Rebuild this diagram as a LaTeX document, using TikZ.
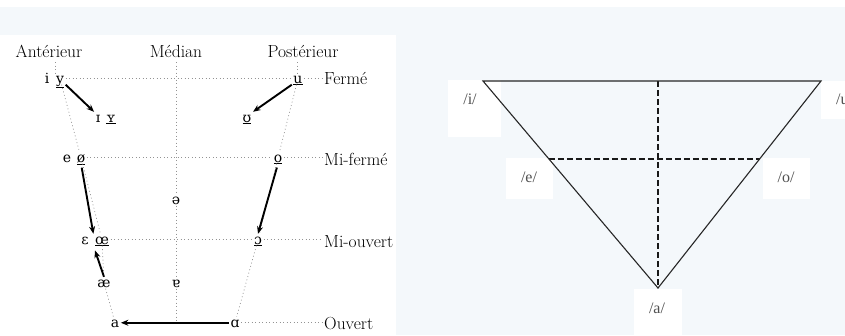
\documentclass[tikz,border=0pt]{standalone}
\usepackage{fontspec}
\newfontfamily\ipafont{DejaVu Serif}[Scale=0.8]
\newfontfamily\lblfont{Liberation Serif}
\usetikzlibrary{arrows.meta,calc}
\definecolor{panelbg}{RGB}{244,248,251}
\definecolor{lblgray}{RGB}{80,80,80}
\begin{document}
\begin{tikzpicture}[x=1pt,y=-1pt,
  lab/.style={font=\fontsize{17.5}{20}\selectfont, inner sep=1pt, anchor=base},
  vow/.style={font=\fontsize{17.5}{20}\selectfont\ipafont, inner sep=1.5pt, anchor=base, text height=8.5pt, text depth=0pt},
  dotline/.style={draw=gray!85, line width=0.7pt, dash pattern=on 0.9pt off 2.6pt},
  arr/.style={draw=black, line width=1.9pt, -{Stealth[length=7.5pt,width=6pt]}},
  tri/.style={draw=black!85, line width=1.1pt},
  dsh/.style={draw=black!90, line width=1.8pt, dash pattern=on 6pt off 3pt},
  tlab/.style={font=\fontsize{16}{19}\selectfont\lblfont, text=lblgray, inner sep=0pt}]
\clip (0,0) rectangle (845,335);
\fill[white] (0,0) rectangle (845,335);
\fill[panelbg] (0,7) rectangle (845,335);
\fill[white] (0,35) rectangle (396,335);

% ---------- left panel: vowel trapezoid ----------
\node[lab] (ant) at (49,57) {Antérieur};
\node[lab] (med) at (176,57) {Médian};
\node[lab] (post) at (303,57) {Postérieur};

\node[lab, anchor=base west] (ferme) at (323,84) {Fermé};
\node[lab, anchor=base west] (mifer) at (323,165) {Mi-fermé};
\node[lab, anchor=base west] (miouv) at (323,247) {Mi-ouvert};
\node[lab, anchor=base west] (ouv) at (323,329) {Ouvert};

\node[vow] (i) at (47,83) {i};
\node[vow] (y) at (60,83) {\underline{y}};
\node[vow] (I) at (98,122) {ɪ};
\node[vow] (Y) at (111,122) {\underline{ʏ}};
\node[vow] (u) at (298,83) {\underline{u}};
\node[vow] (U) at (247,122) {\underline{ʊ}};
\node[vow] (e) at (67,162) {e};
\node[vow] (oslash) at (81,162) {\underline{ø}};
\node[vow] (o) at (278,162) {\underline{o}};
\node[vow] (schwa) at (176,204) {ə};
\node[vow] (eps) at (85,244) {ɛ};
\node[vow] (oe) at (102,244) {\underline{œ}};
\node[vow] (openo) at (258,244) {\underline{ɔ}};
\node[vow] (ae) at (104,287) {æ};
\node[vow] (turna) at (176,287) {ɐ};
\node[vow] (a) at (115,327) {a};
\node[vow] (alpha) at (235,327) {ɑ};

\coordinate (ftop) at (55,62);
\coordinate (btop) at (297,62);
\coordinate (mtop) at (176,62);
\coordinate (mbot) at (176,321);

% dotted frame
\draw[dotline] (ftop) -- (ftop |- y.north);
\draw[dotline] (y) -- (oslash);
\draw[dotline] (oslash) -- (oe);
\draw[dotline] (oe) -- (ae);
\draw[dotline] (ae) -- (a);
\draw[dotline] (btop) -- (btop |- u.north);
\draw[dotline] (u) -- (o);
\draw[dotline] (o) -- (openo);
\draw[dotline] (openo) -- (alpha);
\draw[dotline] (mtop) -- (schwa);
\draw[dotline] (schwa) -- (turna);
\draw[dotline] (turna) -- (mbot);
\draw[dotline] (y.east) -- (u.west);
\draw[dotline] (u.east) -- (u.east -| ferme.west);
\draw[dotline] (oslash.east) -- (o.west);
\draw[dotline] (o.east) -- (o.east -| mifer.west);
\draw[dotline] (oe.east) -- (openo.west);
\draw[dotline] (openo.east) -- (openo.east -| miouv.west);
\draw[dotline] (alpha.east) -- (alpha.east -| ouv.west);

% arrows
\draw[arr] (y.south east) -- (I.north west);
\draw[arr] (u.south west) -- (U.north east);
\draw[arr, shorten <=4pt] (oslash.south) -- (oe.north west);
\draw[arr, shorten >=5pt] (ae.north) -- (oe.south west);
\draw[arr, shorten <=4pt] (o.south) -- (openo.north);
\draw[arr] (alpha.west) -- (a.east);

% ---------- right panel: triangle ----------
\fill[white] (448,80) rectangle (501,137);
\fill[white] (821,81) rectangle (845,119);
\fill[white] (506,158) rectangle (553,199);
\fill[white] (763,158) rectangle (810,199);
\fill[white] (634,289) rectangle (682,335);

\coordinate (TL) at (483,81);
\coordinate (TR) at (821,81);
\coordinate (B) at (658,288);
\coordinate (ML) at ($(TL)!0.377!(B)$);
\coordinate (MR) at ($(TR)!0.377!(B)$);

\draw[dsh] (TL -| B) -- (B);
\draw[dsh] (ML) -- (MR);
\draw[tri, line join=miter] (TL) -- (TR) -- (B) -- cycle;

\node[tlab] (li) at (470,99) {/i/};
\node[tlab, anchor=west] (lu) at (836,99) {/u/};
\node[tlab] (le) at (529,177) {/e/};
\node[tlab] (lo) at (786,177) {/o/};
\node[tlab] (la) at (657,308) {/a/};
\end{tikzpicture}
\end{document}
